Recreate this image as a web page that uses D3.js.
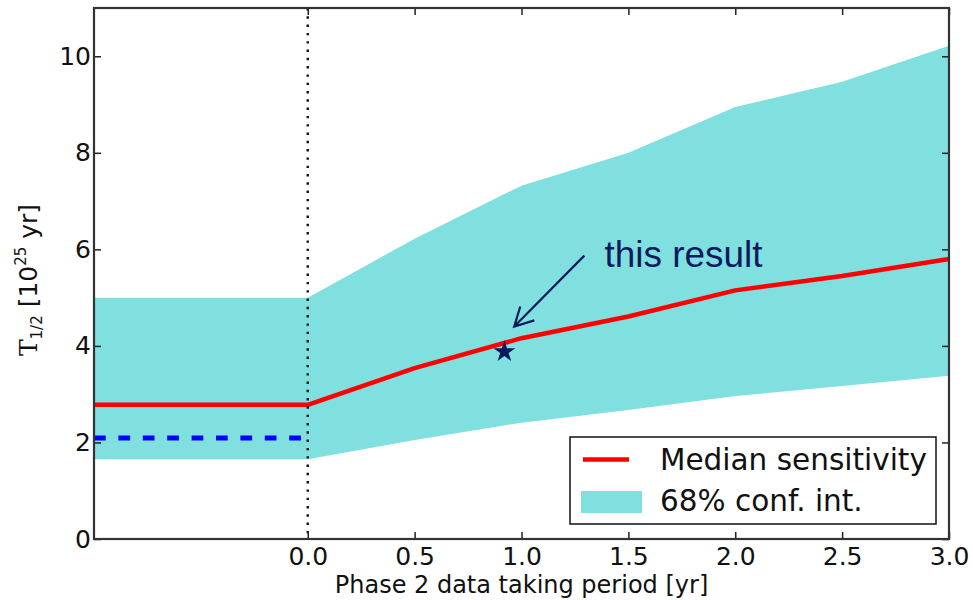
<!DOCTYPE html>
<html>
<head>
<meta charset="utf-8">
<script src="https://cdn.jsdelivr.net/npm/d3@7"></script>
<style>
  html, body { margin: 0; padding: 0; background: #fff; }
  svg { display: block; }
</style>
</head>
<body>
<svg id="chart" width="973" height="600"></svg>
<script>
// Phase 2 sensitivity projection vs. data taking period
const phaseYears   = [-1, 0, 0.5, 1.0, 1.5, 2.0, 2.5, 3.0];
const medianSens   = [2.78, 2.78, 3.54, 4.16, 4.61, 5.15, 5.45, 5.80];
const bandLow      = [1.65, 1.65, 2.05, 2.41, 2.67, 2.96, 3.17, 3.38];
const bandHigh     = [5.00, 5.00, 6.22, 7.32, 8.00, 8.95, 9.47, 10.22];
const phase1X      = [-1, 0];
const phase1Limit  = [2.09, 2.09];
const resultX      = [0.92];
const resultY      = [3.88];
const xTicks       = [0, 0.5, 1.0, 1.5, 2.0, 2.5, 3.0];
const yTicks       = [0, 2, 4, 6, 8, 10];
const legendLabels = ["Median sensitivity", "68% conf. int."];
const noteText     = "this result";

const W = 973, H = 600;
const margin = { left: 94, right: 24, top: 8, bottom: 61 };
const iw = W - margin.left - margin.right;
const ih = H - margin.top - margin.bottom;

const teal = "#80dfdf", red = "#ff0000", blue = "#0000ff", navy = "#0b1a5c";
const font = "'DejaVu Sans', sans-serif";

const svg = d3.select("#chart");
const g = svg.append("g").attr("transform", `translate(${margin.left},${margin.top})`);

const x = d3.scaleLinear().domain([-1, 3]).range([0, iw]);
const y = d3.scaleLinear().domain([0, 11]).range([ih, 0]);

const pts = phaseYears.map((t, i) => ({ t, m: medianSens[i], lo: bandLow[i], hi: bandHigh[i] }));

// 68% band
g.append("path")
  .datum(pts)
  .attr("fill", teal)
  .attr("d", d3.area().x(d => x(d.t)).y0(d => y(d.lo)).y1(d => y(d.hi)));

// Phase I limit (dashed)
g.append("path")
  .datum(phase1X.map((t, i) => [t, phase1Limit[i]]))
  .attr("fill", "none")
  .attr("stroke", blue)
  .attr("stroke-width", 5)
  .attr("stroke-dasharray", "11.7,12.7")
  .attr("d", d3.line().x(d => x(d[0])).y(d => y(d[1])));

// median sensitivity
g.append("path")
  .datum(pts)
  .attr("fill", "none")
  .attr("stroke", red)
  .attr("stroke-width", 4.5)
  .attr("stroke-linejoin", "round")
  .attr("d", d3.line().x(d => x(d.t)).y(d => y(d.m)));

// start of phase 2
g.append("line")
  .attr("x1", x(0)).attr("x2", x(0))
  .attr("y1", 0).attr("y2", ih)
  .attr("stroke", "#111")
  .attr("stroke-width", 2.4)
  .attr("stroke-dasharray", "2.4,5.9");

// measured result
g.selectAll(".result")
  .data(resultX.map((t, i) => [t, resultY[i]]))
  .join("path")
  .attr("class", "result")
  .attr("transform", d => `translate(${x(d[0])},${y(d[1])})`)
  .attr("fill", navy)
  .attr("d", d3.symbol(d3.symbolStar, 150));

// annotation arrow
const tail = [x(1.294), y(5.87)], head = [x(0.966), y(4.40)];
const ang = Math.atan2(head[1] - tail[1], head[0] - tail[0]);
const wl = 21, wa = 28 * Math.PI / 180;
const w1 = [head[0] - wl * Math.cos(ang - wa), head[1] - wl * Math.sin(ang - wa)];
const w2 = [head[0] - wl * Math.cos(ang + wa), head[1] - wl * Math.sin(ang + wa)];
g.append("path")
  .attr("fill", "none")
  .attr("stroke", navy)
  .attr("stroke-width", 2.2)
  .attr("stroke-linejoin", "miter")
  .attr("d", `M${tail}L${head}M${w1}L${head}L${w2}`);

g.append("text")
  .attr("x", x(1.388)).attr("y", y(5.64))
  .attr("fill", navy)
  .attr("font-family", "'Liberation Sans', Arial, sans-serif")
  .attr("font-size", 36)
  .attr("textLength", 158)
  .attr("lengthAdjust", "spacingAndGlyphs")
  .text(noteText);

// axes with inward ticks on all four sides
function styleAxis(sel) {
  sel.select(".domain").remove();
  sel.selectAll(".tick line").attr("stroke", "#222").attr("stroke-width", 1.5);
  sel.selectAll(".tick text").attr("fill", "#111").attr("font-family", font).attr("font-size", 25);
}
g.append("g").attr("transform", `translate(0,${ih})`)
  .call(d3.axisBottom(x).tickValues(xTicks).tickFormat(d3.format(".1f")).tickSize(-7).tickPadding(8))
  .call(styleAxis);
g.append("g")
  .call(d3.axisTop(x).tickValues(xTicks).tickFormat("").tickSize(-7))
  .call(styleAxis);
g.append("g")
  .call(d3.axisLeft(y).tickValues(yTicks).tickFormat(d3.format("d")).tickSize(-7).tickPadding(3))
  .call(styleAxis);
g.append("g").attr("transform", `translate(${iw},0)`)
  .call(d3.axisRight(y).tickValues(yTicks).tickFormat("").tickSize(-7))
  .call(styleAxis);

// frame
g.append("rect")
  .attr("width", iw).attr("height", ih)
  .attr("fill", "none").attr("stroke", "#333").attr("stroke-width", 2.2);

// legend
const lg = g.append("g").attr("transform", `translate(${iw - 13 - 366},${ih - 15 - 87})`);
lg.append("rect").attr("width", 366).attr("height", 87)
  .attr("fill", "#fff").attr("stroke", "#111").attr("stroke-width", 1.5);
lg.append("line").attr("x1", 13).attr("x2", 59).attr("y1", 22.5).attr("y2", 22.5)
  .attr("stroke", red).attr("stroke-width", 4.5);
lg.append("rect").attr("x", 11).attr("y", 54).attr("width", 61).attr("height", 22).attr("fill", teal);
lg.selectAll(".lt").data(legendLabels).join("text")
  .attr("class", "lt")
  .attr("x", 90)
  .attr("y", (d, i) => 33 + i * 41)
  .attr("font-family", font).attr("font-size", 29.5).attr("fill", "#111")
  .text(d => d);

// axis titles
svg.append("text")
  .attr("x", margin.left + x(1)).attr("y", 593)
  .attr("text-anchor", "middle")
  .attr("font-family", font).attr("font-size", 24).attr("fill", "#111")
  .text("Phase 2 data taking period [yr]");

const yl = svg.append("text")
  .attr("transform", "translate(37,280) rotate(-90)")
  .attr("text-anchor", "middle")
  .attr("font-family", font).attr("font-size", 25).attr("fill", "#111");
yl.append("tspan").attr("font-family", "'DejaVu Serif', serif").text("T");
yl.append("tspan").attr("font-size", 15).attr("dy", 5).text("1/2");
yl.append("tspan").attr("dy", -5).text(" [10");
yl.append("tspan").attr("font-size", 15).attr("dy", -11).text("25");
yl.append("tspan").attr("dy", 11).text(" yr]");
</script>
</body>
</html>
